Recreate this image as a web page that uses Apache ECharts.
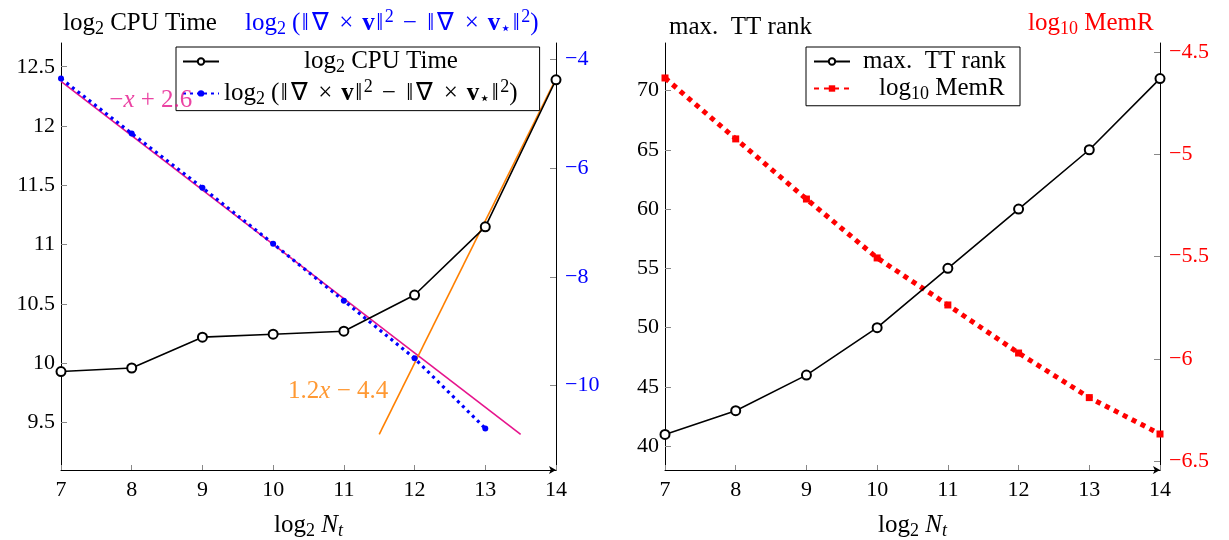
<!DOCTYPE html>
<html>
<head>
<meta charset="utf-8">
<script src="https://cdn.jsdelivr.net/npm/echarts@6/dist/echarts.min.js"></script>
<style>
  html, body { margin: 0; padding: 0; background: #fff; }
  #chart { width: 1229px; height: 540px; }
</style>
</head>
<body>
<div id="chart"></div>
<script>
// data
const nt = [7, 8, 9, 10, 11, 12, 13, 14]
const cpuTime = [9.93, 9.96, 10.22, 10.245, 10.27, 10.575, 11.15, 12.39]
const errNt = [7, 8, 9, 10, 11, 12, 13]
const curlErr = [-4.35, -5.36, -6.36, -7.39, -8.44, -9.5, -10.79]
const slopeLine = [[7, -4.4], [13.5, -10.9]]
const fitLine = [[11.5, 9.4], [14, 12.4]]
const slopeLabelAt = [8.27, -4.76]
const fitLabelAt = [10.92, 9.76]
const ttRank = [41, 43, 46, 50, 55, 60, 65, 71]
const memR = [-4.627, -4.925, -5.219, -5.507, -5.737, -5.972, -6.19, -6.368]
const cpuTicks = [9.5, 10, 10.5, 11, 11.5, 12, 12.5]
const errTicks = [-10, -8, -6, -4]
const rankTicks = [40, 45, 50, 55, 60, 65, 70]
const memTicks = [-6.5, -6, -5.5, -5, -4.5]

const FONT = 'Liberation Serif'
const FS = 25      // text: titles, legend, axis names
const TS = 22      // tick labels
const BLUE = '#0000ff'
const RED = '#ff0000'
const MAGENTA = '#e6148c'
const ORANGE = '#ff8000'

const pair = (xs, ys) => xs.map((x, i) => [x, ys[i]])
const minus = v => String(v).replace('-', '\u2212')

// tokens for a small bit of TeX-like math in rich text
function richSet(color, size = FS) {
  const base = { fontFamily: FONT, fontSize: size, fontWeight: 'normal', color }
  const small = { ...base, fontSize: Math.round(size * 0.7) }
  const box = w => ({ ...base, width: Math.round(w * size), align: 'center' })
  return {
    t: base,
    i: { ...base, fontStyle: 'italic' },
    b: { ...base, fontWeight: 'bold' },
    s: { ...small, padding: [size * 0.5, 0, 0, 0] },
    si: { ...small, fontStyle: 'italic', padding: [size * 0.5, 0, 0, 0] },
    u: { ...small, padding: [0, 0, size * 0.45, 0] },
    d: box(0.4),
    n: box(0.8),
    o: box(0.78),
    sp: box(0.25),
    p: { ...base, width: 8 },
  }
}

const cpuName = '{t|log}{s|2}{t| CPU Time}'
const errName = '{t|log}{s|2}{sp| }{t|(}{d|\u2016}{n|\u2207}{sp| }{o|\u00d7}{sp| }{b|v}{d|\u2016}{u|2}' +
  '{sp| }{o|\u2212}{sp| }{d|\u2016}{n|\u2207}{sp| }{o|\u00d7}{sp| }{b|v}{s|\u22c6}{d|\u2016}{u|2}{t|)}'
const rankName = '{t|max.  TT rank}'
const memName = '{t|log}{s|10}{t| MemR}'
const ntName = '{t|log}{s|2}{t| }{i|N}{si|t}'

const pads = k => '{p| }'.repeat(k)
const legendText = {
  cpu: pads(10) + cpuName,
  err: errName,
  rank: pads(1) + rankName,
  mem: pads(3) + memName,
}

function xAxis(gridIndex) {
  return {
    type: 'value', gridIndex, min: 7, max: 14, interval: 1,
    name: ntName, nameLocation: 'middle', nameGap: 40,
    nameTextStyle: { rich: richSet('#000') },
    axisLine: { lineStyle: { color: '#000', width: 1 }, symbol: ['none', 'arrow'], symbolSize: [6, 7] },
    axisTick: { inside: true, length: 5, lineStyle: { color: '#888' } },
    axisLabel: { color: '#000', fontFamily: FONT, fontSize: TS, margin: 9 },
    splitLine: { show: false },
  }
}

function yAxis(gridIndex, position, min, max, ticks, color) {
  return {
    type: 'value', gridIndex, position, min, max,
    axisLine: { show: true, lineStyle: { color: '#000', width: 1 } },
    axisTick: { show: true, inside: true, length: 6, customValues: ticks, lineStyle: { color: '#888' } },
    axisLabel: {
      customValues: ticks, color, fontFamily: FONT, fontSize: TS,
      margin: position === 'left' ? 6 : 9, formatter: minus,
    },
    splitLine: { show: false },
  }
}

const chart = echarts.init(document.getElementById('chart'))

chart.setOption({
  animation: false,
  backgroundColor: '#fff',
  title: [
    { text: cpuName, left: 58, top: 3, textStyle: { rich: richSet('#000') } },
    { text: errName, left: 240, top: 3, textStyle: { rich: richSet(BLUE) } },
    { text: rankName, left: 664, top: 10, textStyle: { rich: richSet('#000') } },
    { text: memName, left: 1023, top: 3, textStyle: { rich: richSet(RED) } },
  ],
  grid: [
    { left: 61, top: 43, width: 495, height: 427, outerBoundsMode: 'none' },
    { left: 665, top: 43, width: 495, height: 427, outerBoundsMode: 'none' },
  ],
  xAxis: [xAxis(0), xAxis(1)],
  yAxis: [
    yAxis(0, 'left', 9.1, 12.7, cpuTicks, '#000'),
    yAxis(0, 'right', -11.555, -3.695, errTicks, BLUE),
    yAxis(1, 'left', 38, 74, rankTicks, '#000'),
    yAxis(1, 'right', -6.544, -4.456, memTicks, RED),
  ],
  legend: [
    {
      data: [cpuName, errName], left: 176, top: 47, orient: 'vertical',
      backgroundColor: '#fff', borderColor: '#000', borderWidth: 1,
      padding: [2, 22, 2, 6], itemWidth: 36, itemHeight: 8, itemGap: 2,
      formatter: n => n === cpuName ? legendText.cpu : legendText.err,
      textStyle: { rich: richSet('#000') },
    },
    {
      data: [rankName, memName], left: 806, top: 47, orient: 'vertical',
      backgroundColor: '#fff', borderColor: '#000', borderWidth: 1,
      padding: [2, 14, 2, 7], itemWidth: 36, itemHeight: 8, itemGap: 2,
      formatter: n => n === rankName ? legendText.rank : legendText.mem,
      textStyle: { rich: richSet('#000') },
    },
  ],
  series: [
    {
      name: errName, type: 'line', xAxisIndex: 0, yAxisIndex: 1,
      data: pair(errNt, curlErr), symbol: 'circle', symbolSize: 6,
      lineStyle: { color: BLUE, width: 3.2, type: [3, 4] },
      itemStyle: { color: BLUE }, z: 3,
    },
    {
      type: 'line', xAxisIndex: 0, yAxisIndex: 1, data: slopeLine, symbol: 'none',
      lineStyle: { color: MAGENTA, width: 1.6 }, z: 2,
    },
    {
      type: 'line', xAxisIndex: 0, yAxisIndex: 0, data: fitLine, symbol: 'none',
      lineStyle: { color: ORANGE, width: 1.6 }, z: 2,
    },
    {
      name: cpuName, type: 'line', xAxisIndex: 0, yAxisIndex: 0,
      data: pair(nt, cpuTime), symbol: 'emptyCircle', symbolSize: 9,
      lineStyle: { color: '#000', width: 1.6 },
      itemStyle: { color: '#000', borderWidth: 1.6 }, z: 4,
    },
    {
      type: 'scatter', xAxisIndex: 0, yAxisIndex: 1, data: [slopeLabelAt], symbolSize: 0, z: 10,
      label: { show: true, position: 'inside', formatter: '{t|\u2212}{i|x}{t| + 2.6}', rich: richSet(MAGENTA) },
    },
    {
      type: 'scatter', xAxisIndex: 0, yAxisIndex: 0, data: [fitLabelAt], symbolSize: 0, z: 10,
      label: { show: true, position: 'inside', formatter: '{t|1.2}{i|x}{t| \u2212 4.4}', rich: richSet(ORANGE) },
    },
    {
      name: memName, type: 'line', xAxisIndex: 1, yAxisIndex: 3,
      data: pair(nt, memR), symbol: 'rect', symbolSize: 7,
      lineStyle: { color: RED, width: 5, type: [5, 5] },
      itemStyle: { color: RED }, z: 3,
    },
    {
      name: rankName, type: 'line', xAxisIndex: 1, yAxisIndex: 2,
      data: pair(nt, ttRank), symbol: 'emptyCircle', symbolSize: 9,
      lineStyle: { color: '#000', width: 1.6 },
      itemStyle: { color: '#000', borderWidth: 1.6 }, z: 4,
    },
  ],
})
</script>
</body>
</html>
